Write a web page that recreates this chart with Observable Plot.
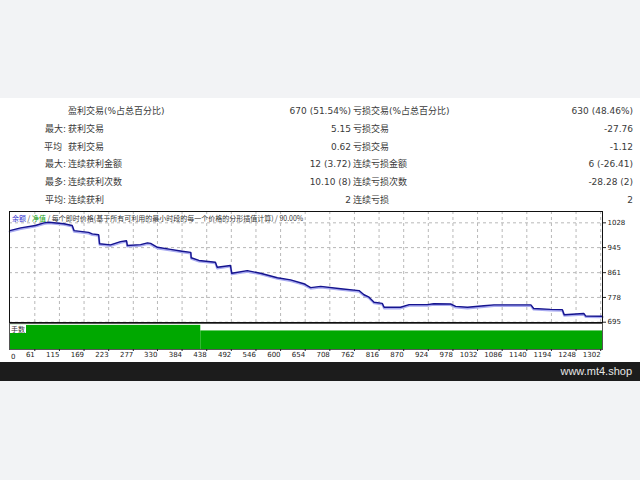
<!DOCTYPE html>
<html><head><meta charset="utf-8">
<script src="https://cdn.jsdelivr.net/npm/d3@7"></script>
<script src="https://cdn.jsdelivr.net/npm/@observablehq/plot@0.6"></script>
<style>
body{margin:0;width:640px;height:480px;background:#f2f3f5;position:relative;overflow:hidden;font-family:"DejaVu Sans","Noto Sans CJK SC",sans-serif;}
#panel{position:absolute;left:0;top:98px;width:640px;height:264px;background:#fff;}
#bar{position:absolute;left:0;top:362px;width:640px;height:19px;background:#1c1c1c;}
#site{position:absolute;right:8px;top:364px;color:#e6e6e6;font-size:11px;line-height:14px;font-family:"Liberation Sans","DejaVu Sans",sans-serif;}
.t{position:absolute;font-size:9px;color:#3a3a3a;white-space:pre;line-height:12px;}
.plotbox{position:absolute;left:0;}
#legend{position:absolute;left:12px;top:214px;font-size:7px;line-height:9px;color:#333;white-space:pre;font-family:"Noto Sans CJK SC","DejaVu Sans",sans-serif;}
#lotlab{position:absolute;left:10px;top:325px;font-size:7px;line-height:8px;background:#fff;color:#333;padding:0 1px;font-family:"Noto Sans CJK SC",sans-serif;}
</style></head>
<body>
<div id="panel"></div>
<div id="bar"></div>
<div id="site"></div>
<div id="table"></div>
<div id="main" class="plotbox" style="top:200px"></div>
<div id="lots" class="plotbox" style="top:322px"></div>
<div id="legend"></div>
<div id="lotlab"></div>
<script>
// ---- table data ----
const rowPrefix = ["", "最大:", "平均", "最大:", "最多:", "平均:"];
const winLabels = ["盈利交易(%占总百分比)", "获利交易", "获利交易", "连续获利金额", "连续获利次数", "连续获利"];
const winValues = ["670 (51.54%)", "5.15", "0.62", "12 (3.72)", "10.10 (8)", "2"];
const lossLabels = ["亏损交易(%占总百分比)", "亏损交易", "亏损交易", "连续亏损金额", "连续亏损次数", "连续亏损"];
const lossValues = ["630 (48.46%)", "-27.76", "-1.12", "6 (-26.41)", "-28.28 (2)", "2"];

// ---- chart data ----
const tradeNo = [6, 30, 62, 81, 92, 125, 143, 147, 179, 187, 201, 203, 227, 249, 262, 264, 293, 308, 315, 330, 359, 384, 403, 404, 421, 457, 461, 490, 493, 527, 556, 593, 622, 651, 666, 688, 732, 772, 783, 793, 805, 823, 827, 863, 882, 922, 936, 973, 984, 1010, 1046, 1068, 1149, 1155, 1192, 1218, 1222, 1265, 1269, 1306];
const balance = [1002, 1011, 1019, 1028, 1030, 1025, 1019, 1002, 996, 991, 988, 958, 954, 965, 968, 952, 955, 961, 959, 946, 939, 933, 929, 911, 902, 896, 879, 885, 859, 868, 859, 844, 837, 824, 811, 815, 807, 801, 787, 780, 762, 758, 745, 745, 754, 754, 757, 756, 748, 745, 750, 753, 753, 741, 738, 737, 720, 724, 716, 715];
const yTicks = [695, 778, 861, 945, 1028];
const xTicks = [61, 115, 169, 223, 277, 330, 384, 438, 492, 546, 600, 654, 708, 762, 816, 870, 924, 978, 1032, 1086, 1140, 1194, 1248, 1302];
const xFirstLabel = ["0"];
const lotFrom = [6, 425];
const lotTo = [425, 1306];
const lotSize = [0.13, 0.10];
const legendParts = ["余额", " / ", "净值", " / 每个即时价格(基于所有可利用的最小时段的每一个价格的分形插值计算) / 90.00%"];
const lotLabel = "手数";
const siteText = "www.mt4.shop";

const xDomain = [5.5, 1306];
const yDomain = [694, 1066];
const plain = d => String(d);

// ---- table ----
const rowY = [111, 129, 147, 164, 182, 200];
const tbl = document.getElementById("table");
function addText(txt, y, opts) {
  const s = document.createElement("div");
  s.className = "t";
  s.textContent = txt;
  s.style.top = (y - 6) + "px";
  if (opts.left != null) s.style.left = opts.left + "px";
  if (opts.right != null) s.style.right = (640 - opts.right) + "px";
  tbl.appendChild(s);
}
rowPrefix.forEach((p, i) => {
  addText(p, rowY[i], {right: p.endsWith(":") ? 66 : 62});
  addText(winLabels[i], rowY[i], {left: 68});
  addText(winValues[i], rowY[i], {right: 351});
  addText(lossLabels[i], rowY[i], {left: 353});
  addText(lossValues[i], rowY[i], {right: 633});
});

document.getElementById("site").textContent = siteText;
document.getElementById("lotlab").textContent = lotLabel;
const lg = document.getElementById("legend");
const legendColors = ["#3030d0", "#333", "#10a010", "#333"];
legendParts.forEach((p, i) => {
  const s = document.createElement("span");
  s.textContent = p; s.style.color = legendColors[i];
  lg.appendChild(s);
});

const data = tradeNo.map((t, i) => ({t, v: balance[i]}));

const main = Plot.plot({
  width: 640, height: 122,
  marginLeft: 9, marginRight: 38, marginTop: 11, marginBottom: 0,
  style: {background: "transparent", fontFamily: "DejaVu Sans", fontSize: "7px", color: "#222", overflow: "visible"},
  x: {domain: xDomain, axis: null},
  y: {domain: yDomain, axis: null},
  marks: [
    Plot.gridX(xTicks, {stroke: "#b8b8b8", strokeOpacity: 1, strokeDasharray: "3,3"}),
    Plot.gridY(yTicks, {stroke: "#b8b8b8", strokeOpacity: 1, strokeDasharray: "3,3"}),
    Plot.line(data, {x: "t", y: "v", stroke: "#a9abf0", strokeWidth: 2.2, dy: 1}),
    Plot.line(data, {x: "t", y: "v", stroke: "#15148f", strokeWidth: 1.4}),
    Plot.frame({stroke: "#111"}),
    Plot.axisY(yTicks, {anchor: "right", tickSize: 3, tickPadding: 2, fontSize: 7, textAnchor: "start", label: null, tickFormat: plain})
  ]
});
document.getElementById("main").appendChild(main);

const lots = Plot.plot({
  width: 640, height: 40,
  marginLeft: 9, marginRight: 38, marginTop: 1, marginBottom: 13,
  style: {background: "transparent", fontFamily: "DejaVu Sans", fontSize: "7px", color: "#222", overflow: "visible"},
  x: {domain: xDomain, axis: null},
  y: {domain: [0, 0.14], axis: null},
  marks: [
    Plot.rectY(lotSize, {x1: (d, i) => lotFrom[i], x2: (d, i) => lotTo[i], y1: 0, y2: d => d, fill: "#00a800", inset: 0}),
    Plot.frame({stroke: "#555"}),
    Plot.axisX(xTicks, {anchor: "bottom", tickSize: 2, tickPadding: 1, textAnchor: "end", fontSize: 7, label: null, tickFormat: plain}),
    Plot.text(xFirstLabel, {x: xDomain[0], y: 0, text: d => d, textAnchor: "start", dx: 1.5, dy: 7, fontSize: 7, fill: "#222"})
  ]
});
document.getElementById("lots").appendChild(lots);
</script>
</body></html>
